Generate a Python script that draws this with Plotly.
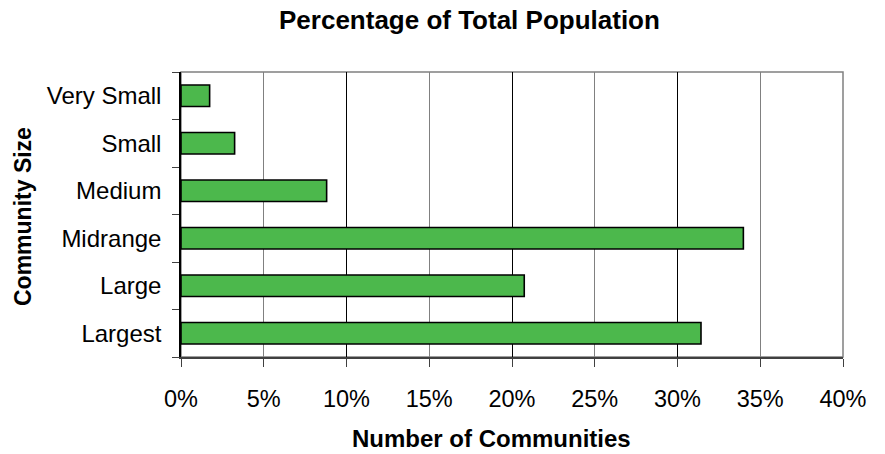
import plotly.graph_objects as go

# Community size categories (top to bottom) and share of total population (%)
categories = ["Very Small", "Small", "Medium", "Midrange", "Large", "Largest"]
shares = [1.73, 3.24, 8.8, 33.98, 20.74, 31.42]

x_tick_values = [0, 5, 10, 15, 20, 25, 30, 35, 40]
x_tick_labels = ["0%", "5%", "10%", "15%", "20%", "25%", "30%", "35%", "40%"]

FONT = "Liberation Sans, Arial, sans-serif"

fig = go.Figure()
fig.add_trace(go.Bar(
    y=categories,
    x=shares,
    orientation="h",
    width=0.45,
    marker=dict(color="#4CB84C", line=dict(color="#000000", width=1.6)),
    hoverinfo="x+y",
))

fig.update_layout(
    width=885,
    height=454,
    margin=dict(l=181, r=42, t=72, b=97),
    plot_bgcolor="white",
    paper_bgcolor="white",
    showlegend=False,
    font=dict(family=FONT, size=18, color="#000000"),
    xaxis=dict(
        range=[0, 40],
        tickvals=x_tick_values,
        ticktext=x_tick_labels,
        showgrid=True,
        gridcolor="#808080",
        gridwidth=1,
        showline=True,
        linecolor="#404040",
        linewidth=1.5,
        ticks="outside",
        ticklen=8,
        tickcolor="#404040",
        tickfont=dict(size=23.5),
        ticklabelstandoff=12,
        zeroline=False,
        fixedrange=True,
    ),
    xaxis2=dict(
        overlaying="x",
        matches="x",
        range=[0, 40],
        dtick=10,
        tick0=0,
        showgrid=True,
        gridcolor="#000000",
        gridwidth=1,
        showticklabels=False,
        showline=False,
        zeroline=False,
        fixedrange=True,
    ),
    yaxis=dict(
        categoryorder="array",
        categoryarray=categories[::-1],
        tickson="boundaries",
        ticks="outside",
        ticklen=7,
        tickcolor="#404040",
        showline=True,
        linecolor="#000000",
        linewidth=1.5,
        showgrid=False,
        tickfont=dict(size=24),
        ticklabelstandoff=13,
        fixedrange=True,
    ),
    shapes=[dict(
        type="rect", xref="paper", yref="paper",
        x0=0, y0=0, x1=1, y1=1,
        line=dict(color="#808080", width=1.5),
        layer="below",
    )],
    annotations=[
        dict(text="<b>Percentage of Total Population</b>", xref="paper", yref="paper",
             x=(469 - 181) / 662, y=1 + (72 - 20) / 285, showarrow=False,
             font=dict(size=26, family=FONT), xanchor="center", yanchor="middle"),
        dict(text="<b>Number of Communities</b>", xref="paper", yref="paper",
             x=(491 - 181) / 662, y=-(438 - 357) / 285, showarrow=False,
             font=dict(size=24, family=FONT), xanchor="center", yanchor="middle"),
        dict(text="<b>Community Size</b>", xref="paper", yref="paper",
             x=-(181 - 23) / 662, y=1 - (217 - 72) / 285, showarrow=False,
             textangle=-90,
             font=dict(size=23, family=FONT), xanchor="center", yanchor="middle"),
    ],
)

# Invisible trace anchoring the secondary x axis used for the darker 10% gridlines
fig.add_trace(go.Scatter(x=[0], y=[categories[0]], xaxis="x2", mode="markers",
                         marker=dict(opacity=0), hoverinfo="skip"))

fig.write_html("out.html")
